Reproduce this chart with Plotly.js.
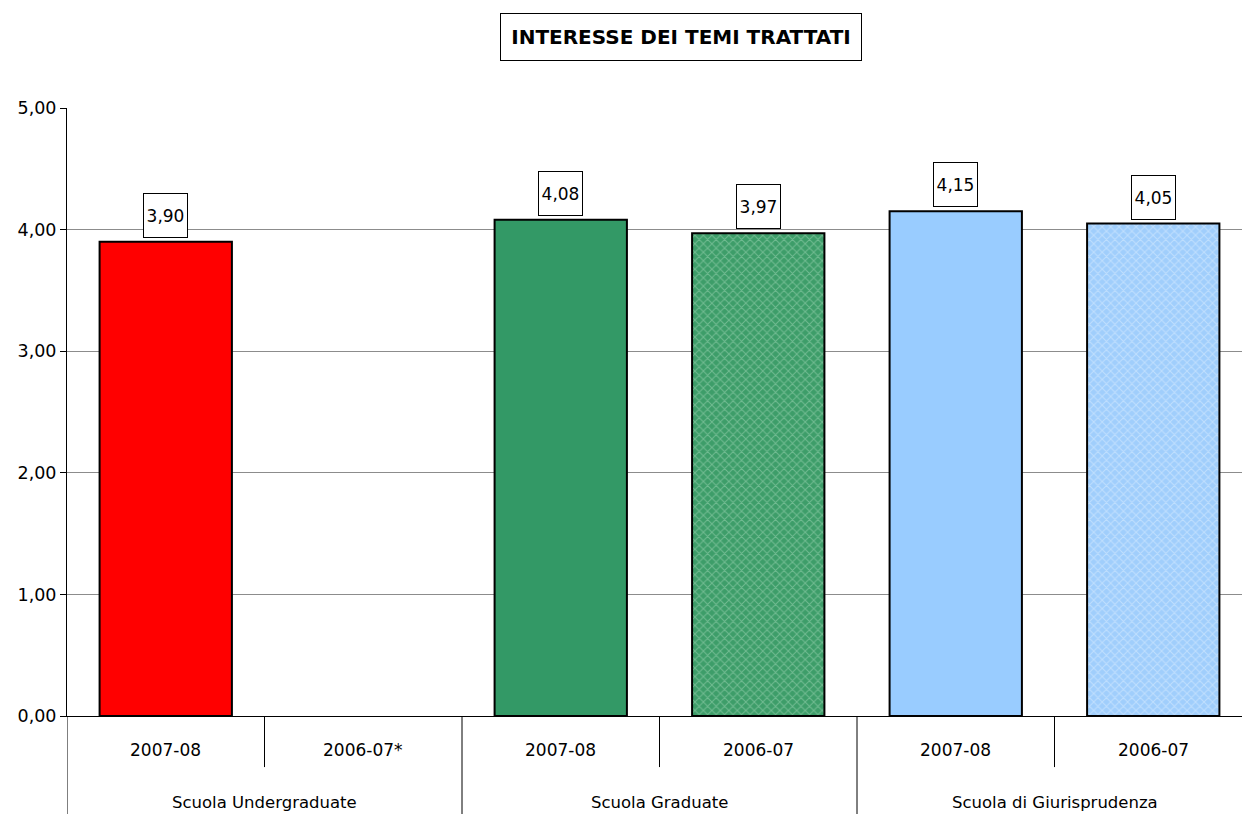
<!DOCTYPE html>
<html>
<head>
<meta charset="utf-8">
<script src="https://cdn.plot.ly/plotly-3.0.1.min.js"></script>
<style>html,body{margin:0;padding:0;overflow:hidden;background:#fff}#chart{width:1252px;height:814px}</style>
</head>
<body>
<div id="chart"></div>
<script>
const groups = ["Scuola Undergraduate", "Scuola Graduate", "Scuola di Giurisprudenza"];
const years = ["2007-08", "2006-07*", "2007-08", "2006-07", "2007-08", "2006-07"];
const values = [3.90, null, 4.08, 3.97, 4.15, 4.05];
const colors = ["#ff0000", "#ffffff", "#339966", "#3d9d69", "#99ccff", "#a0cefc"];
const patternShapes = ["", "", "", "x", "", "x"];
const patternColors = ["rgba(0,0,0,0)", "rgba(0,0,0,0)", "rgba(0,0,0,0)", "#a6d9ba", "rgba(0,0,0,0)", "#e0f0ff"];
const yTicks = [0, 1, 2, 3, 4, 5];
const titleText = "INTERESSE DEI TEMI TRATTATI";

const fmt = v => v.toFixed(2).replace('.', ',');
const xs = years.map((_, i) => i);
const catFont = {family: "DejaVu Sans", size: 17, color: "#000"};

const baseTrace = {
  type: "bar", x: xs, y: values, width: 0.67,
  marker: {color: colors, line: {width: 0}},
  hoverinfo: "none"
};
const patternTrace = {
  type: "bar", x: xs, y: values, width: 0.67,
  marker: {
    color: "rgba(0,0,0,0)",
    line: {color: "#000", width: 2},
    pattern: {shape: patternShapes, fgcolor: patternColors, bgcolor: "rgba(0,0,0,0)",
      fillmode: "overlay", size: 6, solidity: 0.3}
  },
  hoverinfo: "none"
};

const annotations = [];
values.forEach((v, i) => {
  if (v === null) return;
  annotations.push({
    x: i, y: v, xref: "x", yref: "y", text: fmt(v), showarrow: false,
    yanchor: "bottom", yshift: 4, width: 41, height: 41,
    bordercolor: "#000", borderwidth: 1, bgcolor: "#fff",
    font: {family: "DejaVu Sans", size: 17, color: "#000"}
  });
});
years.forEach((t, i) => {
  annotations.push({x: i, y: -0.056, xref: "x", yref: "paper", text: t, showarrow: false,
    yanchor: "middle", font: catFont});
});
groups.forEach((g, j) => {
  annotations.push({x: 2 * j + 0.5, y: -0.142, xref: "x", yref: "paper", text: g, showarrow: false,
    yanchor: "middle", font: {family: "DejaVu Sans", size: 16.5, color: "#000"}});
});
annotations.push({
  x: (681 - 67) / 1185, y: 1.117, xref: "paper", yref: "paper", text: "<b>" + titleText + "</b>",
  showarrow: false, xanchor: "center", yanchor: "middle", width: 358, height: 44,
  bordercolor: "#000", borderwidth: 1, bgcolor: "#fff",
  font: {family: "DejaVu Sans", size: 20, color: "#000"}
});

const shapes = [];
for (let j = 0; j < groups.length; j++) {
  shapes.push({type: "line", xref: "x", yref: "paper", x0: 2 * j - 0.5, x1: 2 * j - 0.5, y0: 0, y1: -0.17,
    line: {color: "#000", width: 1}});
  shapes.push({type: "line", xref: "x", yref: "paper", x0: 2 * j + 0.5, x1: 2 * j + 0.5, y0: 0, y1: -0.084,
    line: {color: "#000", width: 1}});
}

const layout = {
  width: 1252, height: 814,
  margin: {l: 67, r: 0, t: 108, b: 98, pad: 0},
  paper_bgcolor: "#fff", plot_bgcolor: "#fff",
  showlegend: false,
  barmode: "overlay",
  separators: ",.",
  xaxis: {range: [-0.5, 5.5], showticklabels: false, showgrid: false, zeroline: false,
    showline: true, linecolor: "#000", linewidth: 1, ticks: "", fixedrange: true},
  yaxis: {range: [0, 5], tickvals: yTicks, ticktext: yTicks.map(fmt), showgrid: true,
    gridcolor: "#8c8c8c", gridwidth: 1, zeroline: false, showline: true, linecolor: "#000",
    linewidth: 1, ticks: "outside", ticklen: 6, tickcolor: "#000",
    tickfont: {family: "DejaVu Sans", size: 17.5, color: "#000"}, fixedrange: true},
  annotations: annotations,
  shapes: shapes
};

Plotly.newPlot("chart", [baseTrace, patternTrace], layout, {displayModeBar: false, staticPlot: true});
</script>
</body>
</html>
